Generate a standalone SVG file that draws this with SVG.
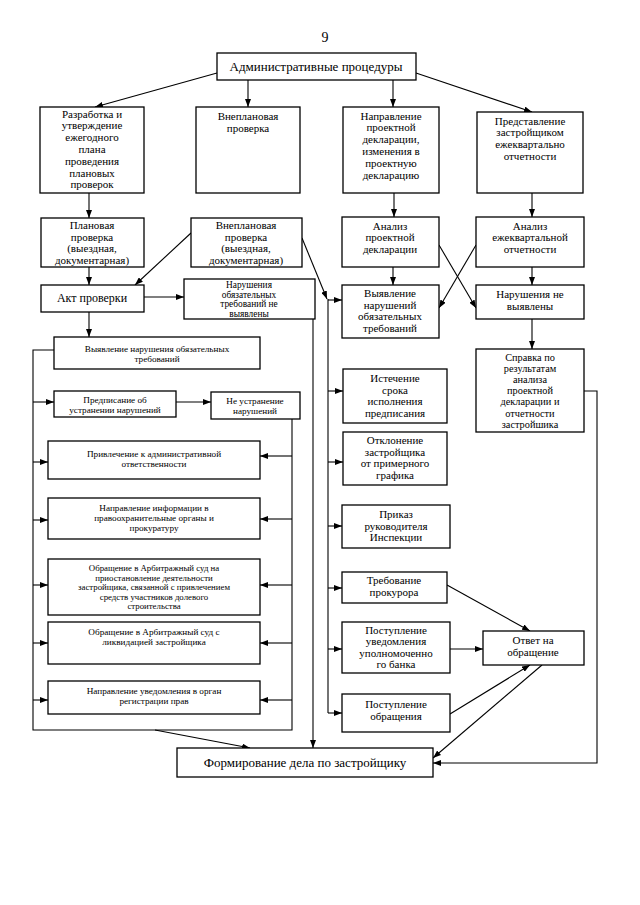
<svg xmlns="http://www.w3.org/2000/svg" width="640" height="905" viewBox="0 0 640 905">
<defs>
<marker id="ah" markerUnits="userSpaceOnUse" markerWidth="8" markerHeight="6" refX="8" refY="3" orient="auto">
<path d="M0,0 L8,3 L0,6 Z" fill="#000"/>
</marker>
<style>
rect{fill:#fff;stroke:#000;stroke-width:1.3}
text{font-family:"Liberation Serif","Times New Roman",serif;fill:#000;text-anchor:middle}
.m{font-size:11px}
.s{font-size:9.2px}
.c line,.c polyline{stroke:#000;stroke-width:1.1;fill:none}
.c .a{marker-end:url(#ah)}
</style>
</defs>
<rect x="0" y="0" width="640" height="905" style="fill:#fff;stroke:none"/>
<text x="325" y="42" style="font-size:14px">9</text>

<g class="c" id="connectors">
<line class="a" x1="217" y1="73" x2="95" y2="107"/>
<line class="a" x1="248" y1="80" x2="248" y2="107"/>
<line class="a" x1="393" y1="80" x2="393" y2="107"/>
<line class="a" x1="416" y1="73" x2="532" y2="112"/>
<line class="a" x1="89" y1="193" x2="89" y2="218"/>
<line class="a" x1="394" y1="193" x2="394" y2="217"/>
<line class="a" x1="532" y1="193" x2="532" y2="217"/>
<line class="a" x1="89" y1="267" x2="89" y2="285"/>
<line class="a" x1="191" y1="233" x2="135" y2="285"/>
<line class="a" x1="144" y1="297" x2="184" y2="297"/>
<line class="a" x1="302" y1="238" x2="327" y2="299"/>
<line x1="328" y1="299" x2="328" y2="713"/>
<line class="a" x1="328" y1="300" x2="342" y2="300"/>
<line class="a" x1="328" y1="391" x2="343" y2="391"/>
<line class="a" x1="328" y1="462" x2="343" y2="462"/>
<line class="a" x1="328" y1="526" x2="342" y2="526"/>
<line class="a" x1="328" y1="588" x2="342" y2="588"/>
<line class="a" x1="328" y1="649" x2="342" y2="649"/>
<line class="a" x1="328" y1="713" x2="342" y2="713"/>
<line class="a" x1="313" y1="319" x2="313" y2="748"/>
<line class="a" x1="393" y1="267" x2="393" y2="285"/>
<line class="a" x1="532" y1="267" x2="532" y2="285"/>
<line class="a" x1="439" y1="245" x2="476" y2="308"/>
<line class="a" x1="476" y1="245" x2="439" y2="308"/>
<line class="a" x1="532" y1="319" x2="532" y2="349"/>
<polyline class="a" points="584,391 597,391 597,763 433,763"/>
<line class="a" x1="89" y1="312" x2="89" y2="337"/>
<polyline points="54,350 33,350 33,730 292,730 292,419"/>
<line class="a" x1="33" y1="402" x2="54" y2="402"/>
<line class="a" x1="33" y1="462" x2="48" y2="462"/>
<line class="a" x1="33" y1="520" x2="48" y2="520"/>
<line class="a" x1="33" y1="585" x2="48" y2="585"/>
<line class="a" x1="33" y1="643" x2="48" y2="643"/>
<line class="a" x1="33" y1="700" x2="48" y2="700"/>
<line class="a" x1="292" y1="456" x2="260" y2="456"/>
<line class="a" x1="292" y1="519" x2="260" y2="519"/>
<line class="a" x1="292" y1="585" x2="260" y2="585"/>
<line class="a" x1="292" y1="643" x2="260" y2="643"/>
<line class="a" x1="292" y1="700" x2="260" y2="700"/>
<line class="a" x1="176" y1="402" x2="211" y2="402"/>
<line class="a" x1="155" y1="730" x2="250" y2="748"/>
<line class="a" x1="447" y1="585" x2="530" y2="631"/>
<line class="a" x1="450" y1="649" x2="483" y2="649"/>
<line class="a" x1="450" y1="714" x2="530" y2="665"/>
<line class="a" x1="542" y1="665" x2="433" y2="758"/>
</g>

<g id="n-top"><rect x="217" y="53" width="199" height="27"/>
<text x="316" y="71" style="font-size:13px">Административные процедуры</text></g>

<g id="n-plan"><rect x="40" y="107" width="104" height="86"/>
<text class="m"><tspan x="92" y="117.5">Разработка и</tspan><tspan x="92" y="129.3">утверждение</tspan><tspan x="92" y="141.1">ежегодного</tspan><tspan x="92" y="152.9">плана</tspan><tspan x="92" y="164.7">проведения</tspan><tspan x="92" y="176.5">плановых</tspan><tspan x="92" y="188.3">проверок</tspan></text></g>

<g id="n-vnepl"><rect x="196" y="107" width="104" height="86"/>
<text class="m"><tspan x="248" y="120">Внеплановая</tspan><tspan x="248" y="132">проверка</tspan></text></g>

<g id="n-napr"><rect x="343" y="107" width="96" height="86"/>
<text class="m"><tspan x="391" y="119.5">Направление</tspan><tspan x="391" y="131.3">проектной</tspan><tspan x="391" y="143.1">декларации,</tspan><tspan x="391" y="154.9">изменения в</tspan><tspan x="391" y="166.7">проектную</tspan><tspan x="391" y="178.5">декларацию</tspan></text></g>

<g id="n-pred"><rect x="477" y="112" width="106" height="81"/>
<text class="m"><tspan x="530" y="124.5">Представление</tspan><tspan x="530" y="136.3">застройщиком</tspan><tspan x="530" y="148.1">ежеквартально</tspan><tspan x="530" y="159.9">отчетности</tspan></text></g>

<g id="n-planpr"><rect x="41" y="218" width="103" height="49"/>
<text class="m"><tspan x="92" y="229">Плановая</tspan><tspan x="92" y="240.5">проверка</tspan><tspan x="92" y="252">(выездная,</tspan><tspan x="92" y="263.5">документарная)</tspan></text></g>

<g id="n-vneplpr"><rect x="191" y="218" width="111" height="49"/>
<text class="m"><tspan x="246" y="229">Внеплановая</tspan><tspan x="246" y="240.5">проверка</tspan><tspan x="246" y="252">(выездная,</tspan><tspan x="246" y="263.5">документарная)</tspan></text></g>

<g id="n-akt"><rect x="41" y="285" width="103" height="27"/>
<text x="92" y="302" style="font-size:12px">Акт проверки</text></g>

<g id="n-nenar"><rect x="184" y="279" width="131" height="40"/>
<text style="font-size:9.4px"><tspan x="249" y="288">Нарушения</tspan><tspan x="249" y="297.6">обязательных</tspan><tspan x="249" y="307.2">требований не</tspan><tspan x="249" y="316.8">выявлены</tspan></text></g>

<g id="n-anpd"><rect x="342" y="217" width="97" height="50"/>
<text class="m"><tspan x="390" y="229.5">Анализ</tspan><tspan x="390" y="241">проектной</tspan><tspan x="390" y="252.5">декларации</tspan></text></g>

<g id="n-anot"><rect x="476" y="217" width="108" height="50"/>
<text class="m"><tspan x="530" y="229.5">Анализ</tspan><tspan x="530" y="241">ежеквартальной</tspan><tspan x="530" y="252.5">отчетности</tspan></text></g>

<g id="n-vyyav"><rect x="342" y="285" width="97" height="53"/>
<text class="m"><tspan x="390" y="297">Выявление</tspan><tspan x="390" y="308.5">нарушений</tspan><tspan x="390" y="320">обязательных</tspan><tspan x="390" y="331.5">требований</tspan></text></g>

<g id="n-nvyyav"><rect x="476" y="285" width="108" height="34"/>
<text class="m"><tspan x="530" y="298">Нарушения не</tspan><tspan x="530" y="309.5">выявлены</tspan></text></g>

<g id="n-sprav"><rect x="476" y="349" width="108" height="83"/>
<text style="font-size:10.3px"><tspan x="530" y="360.5">Справка по</tspan><tspan x="530" y="371.7">результатам</tspan><tspan x="530" y="382.9">анализа</tspan><tspan x="530" y="394.1">проектной</tspan><tspan x="530" y="405.3">декларации и</tspan><tspan x="530" y="416.5">отчетности</tspan><tspan x="530" y="427.7">застройшика</tspan></text></g>

<g id="n-vyyavl"><rect x="54" y="337" width="206" height="32"/>
<text class="s"><tspan x="157" y="351.5">Выявление нарушения обязательных</tspan><tspan x="157" y="361.5">требований</tspan></text></g>

<g id="n-predp"><rect x="54" y="391" width="122" height="26"/>
<text class="s"><tspan x="115" y="403">Предписание об</tspan><tspan x="115" y="413">устранении нарушений</tspan></text></g>

<g id="n-neustr"><rect x="211" y="392" width="89" height="27"/>
<text class="s"><tspan x="255" y="404">Не устранение</tspan><tspan x="255" y="414">нарушений</tspan></text></g>

<g id="n-privl"><rect x="48" y="441" width="212" height="38"/>
<text class="s"><tspan x="154" y="456.5">Привлечение к административной</tspan><tspan x="154" y="466.5">ответственности</tspan></text></g>

<g id="n-inform"><rect x="48" y="498" width="212" height="41"/>
<text class="s"><tspan x="154" y="511">Направление информации в</tspan><tspan x="154" y="521">правоохранительные органы и</tspan><tspan x="154" y="531">прокуратуру</tspan></text></g>

<g id="n-arb1"><rect x="48" y="559" width="212" height="56"/>
<text style="font-size:8.8px"><tspan x="154" y="571">Обращение в Арбитражный суд на</tspan><tspan x="154" y="580.6">приостановление деятельности</tspan><tspan x="154" y="590.2">застройщика, связанной с привлечением</tspan><tspan x="154" y="599.8">средств участников долевого</tspan><tspan x="154" y="609.4">строительства</tspan></text></g>

<g id="n-arb2"><rect x="48" y="622" width="212" height="42"/>
<text class="s"><tspan x="154" y="635">Обращение в Арбитражный суд с</tspan><tspan x="154" y="645">ликвидацией застройщика</tspan></text></g>

<g id="n-uved"><rect x="48" y="681" width="212" height="33"/>
<text class="s"><tspan x="154" y="694">Направление уведомления в орган</tspan><tspan x="154" y="704">регистрации прав</tspan></text></g>

<g id="n-ist"><rect x="343" y="369" width="104" height="54"/>
<text class="m"><tspan x="395" y="382">Истечение</tspan><tspan x="395" y="393.5">срока</tspan><tspan x="395" y="405">исполнения</tspan><tspan x="395" y="416.5">предписания</tspan></text></g>

<g id="n-otkl"><rect x="343" y="432" width="104" height="53"/>
<text class="m"><tspan x="395" y="444">Отклонение</tspan><tspan x="395" y="455.5">застройщика</tspan><tspan x="395" y="467">от примерного</tspan><tspan x="395" y="478.5">графика</tspan></text></g>

<g id="n-prik"><rect x="342" y="505" width="108" height="43"/>
<text class="m"><tspan x="396" y="518">Приказ</tspan><tspan x="396" y="529.5">руководителя</tspan><tspan x="396" y="541">Инспекции</tspan></text></g>

<g id="n-treb"><rect x="342" y="572" width="105" height="31"/>
<text class="m"><tspan x="394" y="584">Требование</tspan><tspan x="394" y="596">прокурора</tspan></text></g>

<g id="n-bank"><rect x="342" y="622" width="108" height="51"/>
<text class="m"><tspan x="396" y="634">Поступление</tspan><tspan x="396" y="645.3">уведомления</tspan><tspan x="396" y="656.6">уполномоченно</tspan><tspan x="396" y="667.9">го банка</tspan></text></g>

<g id="n-obr"><rect x="342" y="694" width="108" height="38"/>
<text class="m"><tspan x="396" y="707.5">Поступление</tspan><tspan x="396" y="719.5">обращения</tspan></text></g>

<g id="n-otvet"><rect x="483" y="631" width="101" height="34"/>
<text class="m"><tspan x="533" y="644">Ответ на</tspan><tspan x="533" y="656">обращение</tspan></text></g>

<g id="n-form"><rect x="177" y="748" width="256" height="29"/>
<text x="305" y="767" style="font-size:13px">Формирование дела по застройщику</text></g>
</svg>
